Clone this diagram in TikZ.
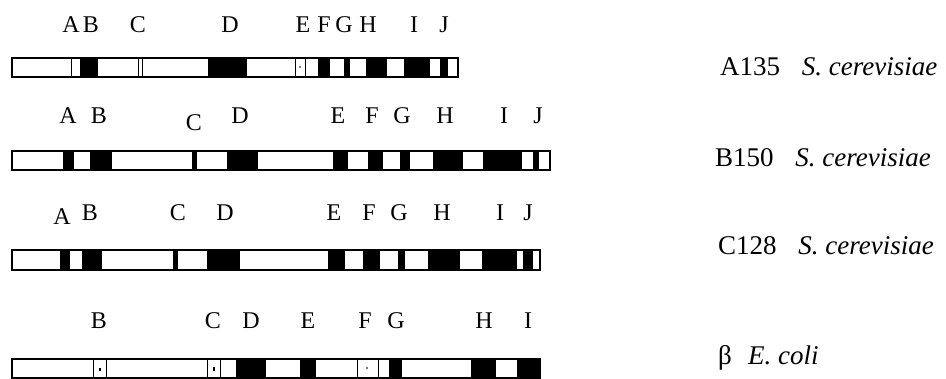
\documentclass[tikz,border=0pt]{standalone}
\usepackage{fontspec}
\setmainfont{Liberation Serif}
\usetikzlibrary{calc}

\begin{document}
\begin{tikzpicture}[x=1pt,y=-1pt,
  bar/.style={line width=1.8pt},
  sep/.style={line width=0.9pt},
  motif/.style={font=\fontsize{24}{28}\selectfont,inner sep=0pt},
  species/.style={font=\fontsize{27}{32}\selectfont,anchor=west,inner sep=0pt}]
  \useasboundingbox (0,0) rectangle (946,379);

  % A135
  \foreach \a/\b in {80/98,208/247,318/330,344/350,366/387,404/430,440/448}
    \fill (\a,58) rectangle (\b,77);
  \foreach \a in {71,138,142,295,305}
    \draw[sep] (\a,58)--(\a,77);
  \fill (300,67) circle(0.8);
  \draw[bar] (12,58) rectangle (458,77);
  \foreach \l/\x in {A/71,B/91,C/138,D/230,E/303,F/324,G/344,H/368,I/414,J/444}
    \node[motif] (r1\l) at (\x,25) {\l};
  \node[species] (nA) at (720,67) {A135\hspace{0.8em}\textit{S. cerevisiae}};

  % B150
  \foreach \a/\b in {63/74,90/112,192/197,227/258,333/348,368/383,400/410,433/463,483/522,533/539}
    \fill (\a,151) rectangle (\b,170);
  \draw[bar] (12,151) rectangle (550,170);
  \foreach \l/\x/\y in {A/68/116,B/99/116,C/194/123,D/240/116,E/338/116,F/372/116,G/402/116,H/445/116,I/504/116,J/538/116}
    \node[motif] (r2\l) at (\x,\y) {\l};
  \node[species] (nB) at (715,158) {B150\hspace{0.8em}\textit{S. cerevisiae}};

  % C128
  \foreach \a/\b in {60/70,82/102,173/178,207/240,328/345,363/380,398/405,428/460,482/517,523/533}
    \fill (\a,250) rectangle (\b,270);
  \draw[bar] (12,250) rectangle (540,270);
  \foreach \l/\x/\y in {A/62/217,B/90/213,C/178/213,D/225/213,E/334/213,F/369/213,G/399/213,H/442/213,I/500/213,J/528/213}
    \node[motif] (r3\l) at (\x,\y) {\l};
  \node[species] (nC) at (718,246) {C128\hspace{0.8em}\textit{S. cerevisiae}};

  % beta E. coli
  \foreach \a/\b in {236/266,300/316,389/402,471/496,517/540}
    \fill (\a,359) rectangle (\b,378);
  \foreach \a/\b in {93/106,207/220,357/378}
    \draw[sep] (\a,359) rectangle (\b,378);
  \fill (99,368) rectangle (101,371);
  \fill (213,367) rectangle (215,371);
  \fill (367,368) circle(0.8);
  \draw[bar] (12,359) rectangle (540,378);
  \foreach \l/\x in {B/99,C/213,D/251,E/308,F/365,G/396,H/484,I/528}
    \node[motif] (r4\l) at (\x,321) {\l};
  \node[species] (nD) at (718,358) {β\hspace{0.6em}\textit{E. coli}};
\end{tikzpicture}
\end{document}
